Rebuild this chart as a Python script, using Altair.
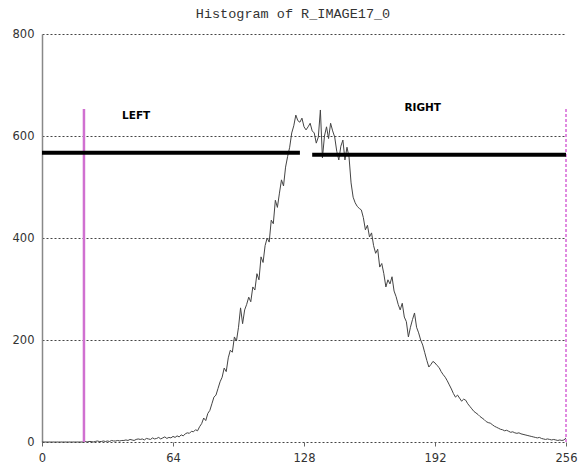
import altair as alt
import pandas as pd

# Pixel-intensity histogram of R_IMAGE17_0: counts for gray levels 0..256
counts = [
    0, 0, 0, 0, 0, 0, 0, 0,
    0, 0, 0, 0, 0, 0, 0, 0,
    0, 0, 0, 0, 0, 1, 0, 1,
    1, 0, 1, 2, 1, 1, 2, 1,
    2, 1, 3, 2, 2, 3, 2, 3,
    3, 4, 3, 5, 4, 3, 5, 6,
    5, 6, 4, 7, 6, 5, 8, 6,
    7, 9, 6, 8, 10, 7, 9, 8,
    11, 9, 12, 10, 14, 12, 16, 18,
    17, 21, 20, 24, 22, 30, 36, 47,
    42, 56, 62, 75, 88, 92, 105, 118,
    127, 145, 138, 165, 180, 176, 206, 198,
    225, 263, 232, 259, 270, 284, 275, 304,
    298, 330, 318, 363, 352, 385, 400, 392,
    435, 428, 474, 460, 488, 514, 502, 539,
    560, 578, 606, 620, 641, 630, 627, 635,
    618, 612, 618, 625, 610, 606, 586, 598,
    651, 557, 600, 618, 595, 625, 610, 598,
    570, 553, 580, 592, 553, 578, 559, 508,
    480, 469, 462, 458, 455, 440, 416, 425,
    402, 410, 385, 370, 378, 343, 350, 330,
    304, 318, 310, 324, 296, 285, 270, 259,
    272, 245, 236, 206, 225, 240, 253, 225,
    214, 200, 190, 175, 160, 147, 152, 158,
    155, 150, 146, 138, 132, 127, 120, 112,
    104, 95, 88, 92, 86, 80, 84, 82,
    75, 70, 65, 60, 57, 54, 50, 47,
    44, 40, 38, 37, 34, 31, 29, 27,
    25, 24, 22, 23, 21, 19, 20, 18,
    17, 18, 16, 15, 14, 13, 12, 11,
    10, 9, 8, 9, 7, 6, 5, 6,
    5, 4, 5, 4, 3, 4, 3, 4,
    8,
]
levels = list(range(len(counts)))

x_ticks = [0, 64, 128, 192, 256]
y_ticks = [0, 200, 400, 600, 800]

# Threshold markers
left_marker = 20.5
right_marker = 256
marker_top = 653

# Mean levels of the two partitions
left_seg = {"x": 0, "x2": 126, "y": 567}
right_seg = {"x": 132, "x2": 256, "y": 563}

region_labels = ["LEFT", "RIGHT"]
region_x = [46, 186]
region_y = [640, 655]

hist_df = pd.DataFrame({"level": levels, "count": counts})
left_df = pd.DataFrame({"x": [left_marker], "base": [0], "top": [marker_top]})
right_df = pd.DataFrame({"x": [right_marker], "base": [0], "top": [marker_top]})
seg_df = pd.DataFrame([left_seg, right_seg])
label_df = pd.DataFrame({"text": region_labels, "x": region_x, "y": region_y})

x_scale = alt.Scale(domain=[0, 256], nice=False, zero=False)
y_scale = alt.Scale(domain=[0, 800], nice=False)

x_axis = alt.Axis(values=x_ticks, grid=False, domain=False, ticks=True, tickSize=4,
                  tickColor="#666", labelFont="DejaVu Sans", labelFontSize=11.5,
                  labelColor="#333", labelPadding=6, title=None, labelFlush=False)
y_axis = alt.Axis(values=y_ticks, grid=True, gridDash=[2, 2], gridColor="#444",
                  gridWidth=1, domain=True, domainColor="#888", domainWidth=1.5,
                  ticks=False, labelFont="DejaVu Sans", labelFontSize=11.5,
                  labelColor="#333", labelPadding=8, title=None)

line = alt.Chart(hist_df).mark_line(color="#444", strokeWidth=1).encode(
    x=alt.X("level:Q", scale=x_scale, axis=x_axis),
    y=alt.Y("count:Q", scale=y_scale, axis=y_axis),
)

left_rule = alt.Chart(left_df).mark_rule(color="#d070d0", strokeWidth=2.5).encode(
    x="x:Q", y="base:Q", y2="top:Q"
)

right_rule = alt.Chart(right_df).mark_rule(
    color="#e08ae0", strokeWidth=2, strokeDash=[3, 2]
).encode(x="x:Q", y="base:Q", y2="top:Q")

segments = alt.Chart(seg_df).mark_rule(color="black", strokeWidth=4).encode(
    x="x:Q", x2="x2:Q", y="y:Q"
)

labels = alt.Chart(label_df).mark_text(
    font="DejaVu Sans", fontWeight="bold", fontSize=10.5, color="black"
).encode(x="x:Q", y="y:Q", text="text:N")

chart = alt.layer(line, left_rule, right_rule, segments, labels).properties(
    width=524,
    height=408,
    autosize=alt.AutoSizeParams(type="none"),
    padding={"left": 42, "top": 34, "right": 15, "bottom": 29},
    background="white",
    title=alt.Title("Histogram of R_IMAGE17_0", font="Liberation Mono", fontSize=13.5,
                    fontWeight="normal", color="#333", anchor="middle", dx=-11, offset=8),
).configure_view(stroke=None)

chart.save("out.html", embed_options={"renderer": "svg", "actions": False})
